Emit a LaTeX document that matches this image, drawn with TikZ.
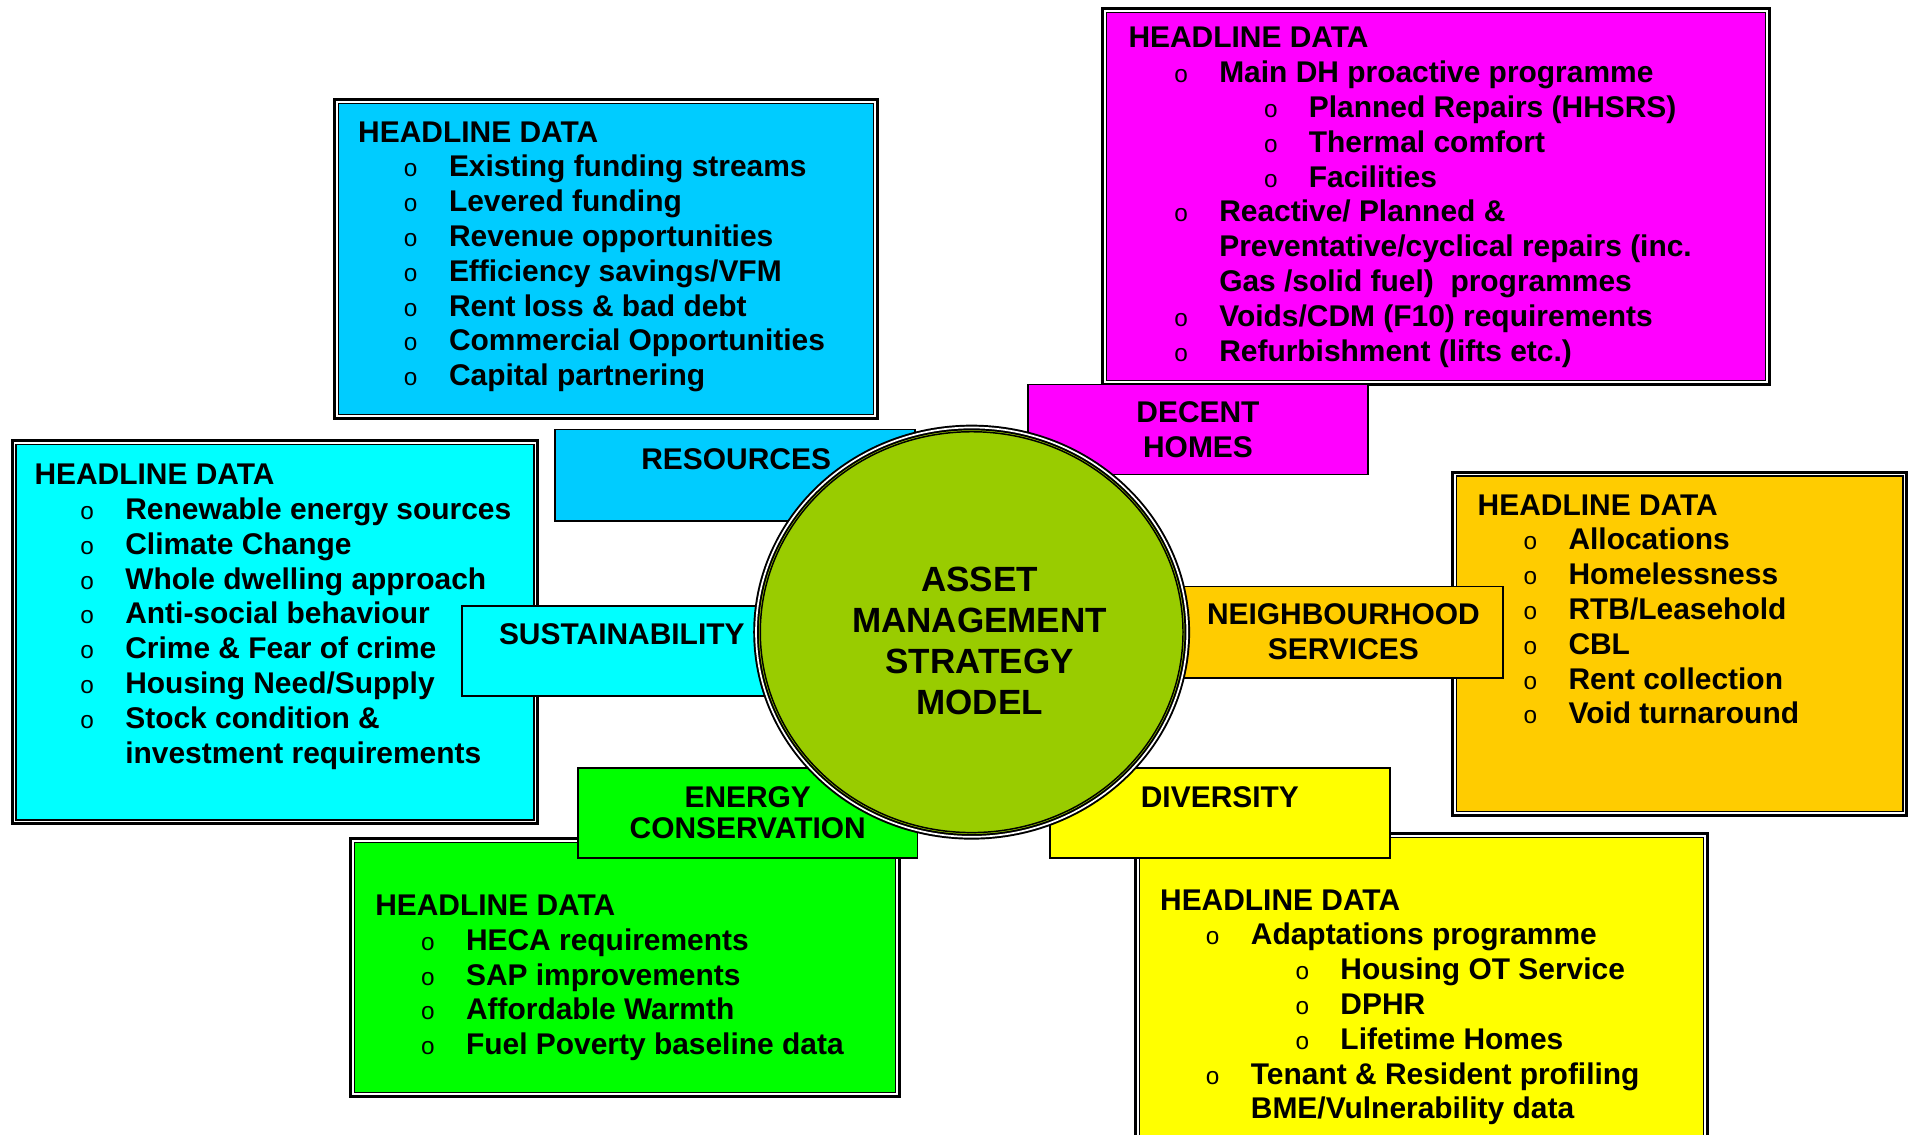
\documentclass[tikz,border=0pt]{standalone}
\usepackage{fontspec}
\setmainfont{Liberation Sans}
\usetikzlibrary{shapes.geometric,fit}

\definecolor{resblue}{RGB}{0,204,255}
\definecolor{dhpink}{RGB}{255,0,255}
\definecolor{suscyan}{RGB}{0,255,255}
\definecolor{nbhorange}{RGB}{255,204,0}
\definecolor{engreen}{RGB}{0,255,0}
\definecolor{divyellow}{RGB}{255,255,0}
\definecolor{hubgreen}{RGB}{153,204,0}

\newcommand{\boxfont}{\fontsize{12.3}{14.3}\selectfont\bfseries}
\newcommand{\hubfont}{\fontsize{14.4}{16.85}\selectfont\bfseries}
\newcommand{\bul}{{\fontsize{10}{10}\selectfont\mdseries o}}
\newcommand{\itm}[1]{\hspace*{18.8pt}\makebox[18.5pt][l]{\bul}#1}
\newcommand{\subitm}[1]{\hspace*{55.7pt}\makebox[18.4pt][l]{\bul}#1}
\newcommand{\cont}[1]{\hspace*{37.3pt}#1}

\pgfdeclarelayer{boxlayer}
\pgfdeclarelayer{tablayer}
\pgfsetlayers{boxlayer,tablayer,main}

\tikzstyle{databox}=[rectangle, draw=black, line width=1.25pt, inner sep=0pt,
    path picture={
        \draw [white, line width=0.75pt] ([xshift=1pt, yshift=-1pt]path picture bounding box.north west) rectangle ([xshift=-1pt, yshift=1pt]path picture bounding box.south east);
        \draw [black, line width=0.5pt] ([xshift=1.6pt, yshift=-1.6pt]path picture bounding box.north west) rectangle ([xshift=-1.6pt, yshift=1.6pt]path picture bounding box.south east);
    }]
\tikzstyle{headline}=[anchor=north west, align=left, inner sep=0pt, font=\boxfont]
\tikzstyle{tab}=[rectangle, draw=black, line width=0.75pt, inner sep=0pt]
\tikzstyle{tabtext}=[anchor=north, align=center, inner sep=0pt, font=\boxfont]
\tikzstyle{hub}=[ellipse, fill=hubgreen, draw=black, line width=0.8pt, double=white, double distance=0.7pt, inner sep=0pt, minimum width=177.2pt, minimum height=168.2pt]
\tikzstyle{hubtext}=[align=center, inner sep=0pt, font=\hubfont]

\begin{document}
\begin{tikzpicture}[x=0.5pt, y=-0.5pt]
    \useasboundingbox (0, 0) rectangle (1568, 932);

    \begin{pgfonlayer}{boxlayer}
        % headline data panels
        \node [style=databox, fill=resblue, fit={(275, 82) (721, 344)}] (resbox) {};
        \node [style=databox, fill=dhpink, fit={(906, 7) (1454, 316)}] (dhbox) {};
        \node [style=databox, fill=suscyan, fit={(10, 362) (442, 677)}] (susbox) {};
        \node [style=databox, fill=nbhorange, fit={(1194, 388) (1567, 670)}] (nbhbox) {};
        \node [style=databox, fill=engreen, fit={(288, 689) (739, 901)}] (enbox) {};
        \node [style=databox, fill=divyellow, fit={(933, 685) (1403, 960)}] (divbox) {};

        \node [style=headline] (reslist) at (294, 99.5) {HEADLINE DATA\\
            \itm{Existing funding streams}\\
            \itm{Levered funding}\\
            \itm{Revenue opportunities}\\
            \itm{Efficiency savings/VFM}\\
            \itm{Rent loss \& bad debt}\\
            \itm{Commercial Opportunities}\\
            \itm{Capital partnering}};
        \node [style=headline] (dhlist) at (927, 22) {HEADLINE DATA\\
            \itm{Main DH proactive programme}\\
            \subitm{Planned Repairs (HHSRS)}\\
            \subitm{Thermal comfort}\\
            \subitm{Facilities}\\
            \itm{Reactive/ Planned \&}\\
            \cont{Preventative/cyclical repairs (inc.}\\
            \cont{Gas /solid fuel)\ \ programmes}\\
            \itm{Voids/CDM (F10) requirements}\\
            \itm{Refurbishment (lifts etc.)}};
        \node [style=headline] (suslist) at (28, 381) {HEADLINE DATA\\
            \itm{Renewable energy sources}\\
            \itm{Climate Change}\\
            \itm{Whole dwelling approach}\\
            \itm{Anti-social behaviour}\\
            \itm{Crime \& Fear of crime}\\
            \itm{Housing Need/Supply}\\
            \itm{Stock condition \&}\\
            \cont{investment requirements}};
        \node [style=headline] (nbhlist) at (1214, 406) {HEADLINE DATA\\
            \itm{Allocations}\\
            \itm{Homelessness}\\
            \itm{RTB/Leasehold}\\
            \itm{CBL}\\
            \itm{Rent collection}\\
            \itm{Void turnaround}};
        \node [style=headline] (enlist) at (308, 735) {HEADLINE DATA\\
            \itm{HECA requirements}\\
            \itm{SAP improvements}\\
            \itm{Affordable Warmth}\\
            \itm{Fuel Poverty baseline data}};
        \node [style=headline] (divlist) at (953, 730.5) {HEADLINE DATA\\
            \itm{Adaptations programme}\\
            \subitm{Housing OT Service}\\
            \subitm{DPHR}\\
            \subitm{Lifetime Homes}\\
            \itm{Tenant \& Resident profiling}\\
            \cont{BME/Vulnerability data}};
    \end{pgfonlayer}

    \begin{pgfonlayer}{tablayer}
        % theme tabs, partly hidden under the hub
        \node [style=tab, fill=resblue, fit={(456, 353) (752, 428)}] (restab) {};
        \node [style=tab, fill=dhpink, fit={(845, 316) (1124, 390)}] (dhtab) {};
        \node [style=tab, fill=suscyan, fit={(380, 498) (642, 572)}] (sustab) {};
        \node [style=tab, fill=nbhorange, fit={(973, 482) (1235, 557)}] (nbhtab) {};
        \node [style=tab, fill=engreen, fit={(475, 631) (754, 705)}] (entab) {};
        \node [style=tab, fill=divyellow, fit={(863, 631) (1142, 705)}] (divtab) {};

        \node [style=tabtext] (restext) at ([xshift=0.5pt, yshift=-8.2pt]restab.north) {RESOURCES};
        \node [style=tabtext] (dhtext) at ([yshift=-7.2pt]dhtab.north) {DECENT\\HOMES};
        \node [style=tabtext] (sustext) at ([yshift=-7.3pt]sustab.north) {SUSTAINABILITY};
        \node [style=tabtext] (nbhtext) at ([yshift=-7.3pt]nbhtab.north) {NEIGHBOURHOOD\\SERVICES};
        \node [style=tabtext] (entext) at ([yshift=-7.7pt]entab.north) {ENERGY\\[-1.5pt]CONSERVATION};
        \node [style=tabtext] (divtext) at ([yshift=-7.7pt]divtab.north) {DIVERSITY};
    \end{pgfonlayer}

    % the model itself
    \node [style=hub] (hub) at (798.5, 519.5) {};
    \draw [line width=0.6pt] (hub.center) ellipse [x radius=173.7, y radius=164.7];
    \node [style=hubtext] (hubname) at (805, 527) {ASSET\\MANAGEMENT\\STRATEGY\\MODEL};
\end{tikzpicture}
\end{document}
